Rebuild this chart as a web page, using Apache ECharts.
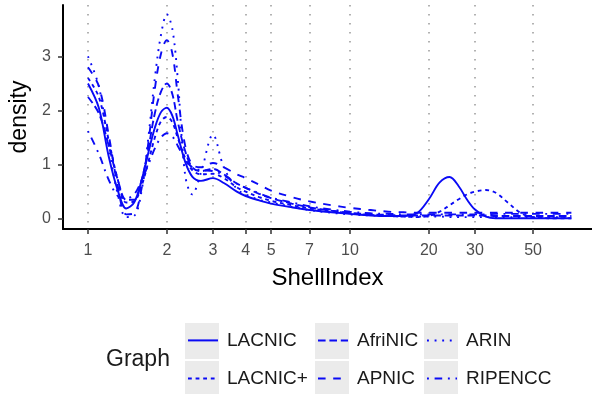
<!DOCTYPE html>
<html>
<head>
<meta charset="utf-8">
<script src="https://cdn.jsdelivr.net/npm/echarts@6/dist/echarts.min.js"></script>
<style>html,body{margin:0;padding:0;background:#fff}#c{width:592px;height:394px}</style>
</head>
<body>
<div id="c"></div>
<script>
// ShellIndex sample points (x)
var shellIndex = [1, 1.1, 1.2, 1.3, 1.4, 1.5, 1.6, 1.7, 1.8, 1.9, 2, 2.1, 2.2, 2.35, 2.5, 2.7, 3, 3.3, 3.7, 4, 4.5, 5, 6, 7, 8.5, 10, 12, 14, 16, 18, 20, 22, 24, 26, 28, 30, 33, 36, 40, 45, 50, 58, 70];
// density values per graph
var lacnic     = [2.5, 2.05, 1.15, 0.52, 0.19, 0.3, 0.7, 1.22, 1.68, 1.97, 2.05, 1.9, 1.55, 1.05, 0.78, 0.7, 0.75, 0.66, 0.5, 0.42, 0.34, 0.28, 0.21, 0.16, 0.12, 0.09, 0.06, 0.05, 0.05, 0.1, 0.36, 0.67, 0.77, 0.6, 0.35, 0.17, 0.04, 0.01, 0.01, 0.01, 0.01, 0.01, 0.01];
var lacnicPlus = [2.6, 2.25, 1.45, 0.72, 0.3, 0.32, 0.6, 1.05, 1.5, 1.8, 1.88, 1.78, 1.5, 1.12, 0.9, 0.82, 0.83, 0.75, 0.58, 0.5, 0.4, 0.33, 0.25, 0.19, 0.14, 0.1, 0.07, 0.05, 0.04, 0.03, 0.05, 0.13, 0.25, 0.36, 0.45, 0.5, 0.53, 0.48, 0.3, 0.1, 0.03, 0.01, 0.01];
var afrinic    = [2.25, 1.95, 1.35, 0.72, 0.35, 0.35, 0.7, 1.3, 1.95, 2.35, 2.5, 2.3, 1.8, 1.25, 0.95, 0.88, 0.92, 0.82, 0.65, 0.57, 0.46, 0.38, 0.28, 0.21, 0.15, 0.11, 0.08, 0.07, 0.06, 0.06, 0.06, 0.06, 0.06, 0.06, 0.06, 0.06, 0.06, 0.05, 0.05, 0.05, 0.05, 0.05, 0.05];
var apnic      = [2.8, 2.45, 1.55, 0.6, 0.08, 0.1, 0.55, 1.4, 2.4, 3.05, 3.3, 3.05, 2.3, 1.35, 1.0, 0.95, 1.03, 0.95, 0.82, 0.75, 0.63, 0.52, 0.4, 0.32, 0.25, 0.2, 0.16, 0.13, 0.12, 0.11, 0.11, 0.11, 0.11, 0.11, 0.11, 0.11, 0.11, 0.11, 0.11, 0.11, 0.11, 0.11, 0.11];
var arin       = [3.0, 2.45, 1.35, 0.45, 0.03, 0.05, 0.5, 1.5, 2.6, 3.4, 3.78, 3.5, 2.6, 0.8, 0.45, 0.85, 1.55, 0.95, 0.55, 0.45, 0.35, 0.3, 0.22, 0.16, 0.11, 0.08, 0.06, 0.05, 0.04, 0.04, 0.04, 0.04, 0.03, 0.03, 0.03, 0.03, 0.03, 0.03, 0.03, 0.03, 0.03, 0.03, 0.03];
var ripencc    = [1.62, 1.2, 0.72, 0.42, 0.38, 0.45, 0.7, 1.0, 1.3, 1.5, 1.58, 1.52, 1.35, 1.1, 0.95, 0.9, 0.88, 0.8, 0.65, 0.57, 0.47, 0.39, 0.3, 0.23, 0.17, 0.13, 0.1, 0.09, 0.08, 0.08, 0.08, 0.08, 0.08, 0.08, 0.08, 0.08, 0.08, 0.09, 0.09, 0.09, 0.09, 0.09, 0.09];
var graphNames = ['LACNIC', 'LACNIC+', 'AfriNIC', 'APNIC', 'ARIN', 'RIPENCC'];
var xTicks = [1, 2, 3, 4, 5, 7, 10, 20, 30, 50];
var yTicks = [0, 1, 2, 3];
var xRange = [0.803, 83.9];
var yRange = [-0.19, 3.95];

var seriesValues = [lacnic, lacnicPlus, afrinic, apnic, arin, ripencc];
var w = 1.9;
var dashes = ['solid', [2*w, 2*w], [4*w, 2*w], [4*w, 4*w], [1*w, 3*w], [1*w, 3*w, 4*w, 3*w]];
var blue = '#0a0af5';
var font = "'Liberation Sans', Arial, sans-serif";
var lg = function (v) { return Math.log10(v); };

var series = graphNames.map(function (name, i) {
  return {
    name: name, type: 'line', smooth: 0.35, symbol: 'none', showSymbol: false,
    data: shellIndex.map(function (x, j) { return [lg(x), seriesValues[i][j]]; }),
    lineStyle: { color: blue, width: w, type: dashes[i] },
    itemStyle: { color: blue }
  };
});

// legend layout: column-major, 3 columns x 2 rows
var colLeft = [185, 315, 424];
var rowTop = [323, 361];
var rowHeight = [36, 33];
var rowLine = [340, 378];
var legends = [];
var keyRects = [];
graphNames.forEach(function (name, i) {
  var c = Math.floor(i / 2), r = i % 2;
  legends.push({
    data: [name], left: colLeft[c] + 2, top: rowLine[r] - 14, padding: 0,
    itemWidth: 30, itemHeight: 36, selectedMode: false,
    itemStyle: { opacity: 0, borderWidth: 0 },
    textStyle: { fontFamily: font, fontSize: 19, color: '#1a1a1a', padding: [0, 0, 0, 4] }
  });
});
colLeft.forEach(function (x) {
  rowTop.forEach(function (y, r) {
    keyRects.push({ type: 'rect', left: x, top: y, shape: { width: 34, height: rowHeight[r] }, style: { fill: '#ebebeb' }, z: -1 });
  });
});

var chart = echarts.init(document.getElementById('c'), null, { renderer: 'canvas' });
chart.setOption({
  animation: false,
  backgroundColor: '#fff',
  title: { text: 'Graph', left: 106, top: 348, padding: 0, textStyle: { fontFamily: font, fontSize: 23, fontWeight: 'normal', color: '#1a1a1a' } },
  graphic: keyRects,
  legend: legends,
  grid: { left: 63, right: 0, top: 5, bottom: 165, containLabel: false },
  xAxis: {
    type: 'value', min: lg(xRange[0]), max: lg(xRange[1]),
    name: 'ShellIndex', nameLocation: 'middle', nameGap: 37,
    nameTextStyle: { fontFamily: font, fontSize: 24, color: '#000' },
    axisLine: { onZero: false, lineStyle: { color: '#000', width: 2 } },
    axisTick: { length: 5, customValues: xTicks.map(lg), lineStyle: { color: '#333', width: 1.5 } },
    axisLabel: { customValues: xTicks.map(lg), margin: 14, fontFamily: font, fontSize: 16, color: '#4d4d4d',
      formatter: function (v) { return String(Math.round(Math.pow(10, v))); } },
    splitLine: { show: true, lineStyle: { color: '#999999', width: 1.5, type: [1.5, 7.5] } }
  },
  yAxis: {
    type: 'value', min: yRange[0], max: yRange[1],
    name: 'density', nameLocation: 'middle', nameGap: 31,
    nameTextStyle: { fontFamily: font, fontSize: 23, color: '#000' },
    axisLine: { show: true, onZero: false, lineStyle: { color: '#000', width: 2 } },
    axisTick: { show: true, length: 5, customValues: yTicks, lineStyle: { color: '#333', width: 1.5 } },
    axisLabel: { customValues: yTicks, margin: 12, fontFamily: font, fontSize: 16, color: '#4d4d4d' },
    splitLine: { show: false }
  },
  series: series
});
</script>
</body>
</html>
